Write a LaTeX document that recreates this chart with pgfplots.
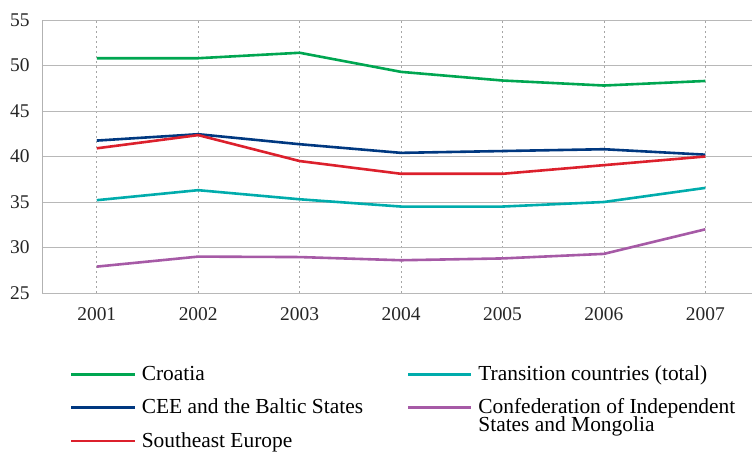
\documentclass[border=0pt]{standalone}
\usepackage{pgfplots}
\pgfplotsset{compat=1.18}
\usepackage{fontspec}
\setmainfont{Liberation Serif}
\definecolor{cro}{RGB}{0,166,81}
\definecolor{tra}{RGB}{0,172,172}
\definecolor{cee}{RGB}{0,56,128}
\definecolor{cis}{RGB}{166,90,166}
\definecolor{see}{RGB}{220,32,44}
\newcommand{\ls}{\rule{0pt}{16bp}\rule[-5bp]{0pt}{5bp}}
\begin{document}
\begin{tikzpicture}
\begin{axis}[
  scale only axis, width=710bp, height=273bp,
  xmin=2000.46, xmax=2007.46, ymin=25, ymax=55,
  xtick={2001,2002,2003,2004,2005,2006,2007},
  xticklabels={2001,2002,2003,2004,2005,2006,2007},
  ytick={25,30,35,40,45,50,55},
  yticklabels={25,30,35,40,45,50,55},
  separate axis lines,
  axis x line*=bottom, axis y line*=left,
  x axis line style={draw=none},
  y axis line style={draw=black!30, line width=0.8bp},
  major tick length=0,
  xmajorgrids, ymajorgrids,
  x grid style={dash pattern=on 2.5bp off 2.5bp, black!35, line width=0.6bp},
  y grid style={black!28, line width=0.9bp},
  ticklabel style={font=\rmfamily\fontsize{19.5}{20}\selectfont, text=black!85},
  yticklabel style={xshift=-9bp},
  xticklabel style={yshift=-11bp},
  legend columns=2,
  legend style={at={(0,0)}, anchor=north west, xshift=28bp, yshift=-71bp,
    draw=none, fill=none, inner sep=0pt, nodes={inner sep=0pt, anchor=base west},
    font=\rmfamily\fontsize{21.5}{22}\selectfont, row sep=16bp,
    /tikz/every odd column/.style={column sep=6bp}},
  legend image code/.code={\draw[#1, line width=2.6bp] (0bp,6bp) -- (63bp,6bp);},
  every axis plot/.append style={line width=2.6bp},
]
\addplot[cro] coordinates {(2001,50.8)(2002,50.8)(2003,51.4)(2004,49.3)(2005,48.35)(2006,47.8)(2007,48.3)};
\addlegendentry{\makebox[265bp][l]{\ls Croatia}}
\addplot[tra] coordinates {(2001,35.2)(2002,36.3)(2003,35.3)(2004,34.5)(2005,34.5)(2006,35.0)(2007,36.55)};
\addlegendentry{\ls Transition countries (total)}
\addplot[cee] coordinates {(2001,41.75)(2002,42.45)(2003,41.35)(2004,40.4)(2005,40.6)(2006,40.8)(2007,40.2)};
\addlegendentry{\makebox[265bp][l]{\ls CEE and the Baltic States}}
\addplot[cis] coordinates {(2001,27.9)(2002,29.0)(2003,28.95)(2004,28.6)(2005,28.8)(2006,29.3)(2007,32.0)};
\addlegendentry{\ls\raisebox{0pt}[\height][0pt]{\begin{tabular}[t]{@{}l@{}}Confederation of Independent\\[-4bp]States and Mongolia\end{tabular}}}
\addplot[see] coordinates {(2001,40.9)(2002,42.35)(2003,39.5)(2004,38.1)(2005,38.1)(2006,39.05)(2007,40.0)};
\addlegendentry{\makebox[265bp][l]{\ls Southeast Europe}}
\end{axis}
\pgfresetboundingbox
\path (current axis.south west) ++(-42bp,-158bp) coordinate (bl);
\path (current axis.north east) ++(0bp,20bp) coordinate (tr);
\useasboundingbox (bl) rectangle (tr);
\end{tikzpicture}
\end{document}
